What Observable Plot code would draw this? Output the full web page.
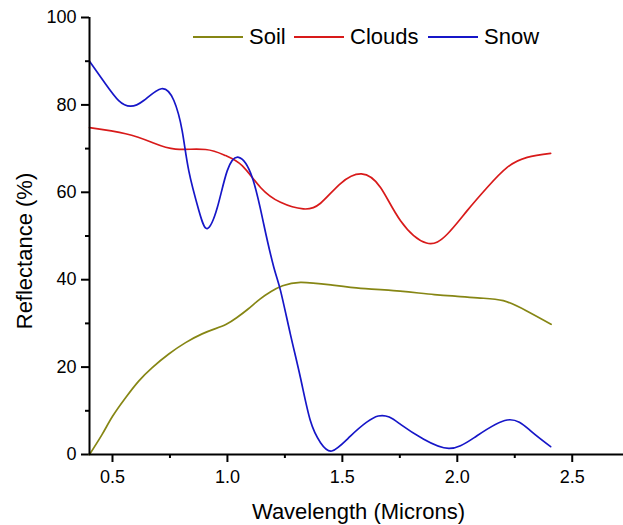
<!DOCTYPE html>
<html>
<head>
<meta charset="utf-8">
<script src="https://cdn.jsdelivr.net/npm/d3@7"></script>
<script src="https://cdn.jsdelivr.net/npm/@observablehq/plot@0.6"></script>
<style>
  html, body { margin: 0; padding: 0; background: #fff; }
  #wrap { position: relative; width: 623px; height: 525px; font-family: Arial, "Liberation Sans", sans-serif; }
  #legend { position: absolute; left: 0; top: 0; width: 623px; height: 60px; pointer-events: none; }
  .item { position: absolute; top: 23px; height: 28px; display: flex; align-items: center; font-size: 22px; color: #000; white-space: nowrap; }
  .sw { display: inline-block; width: 50px; height: 0; border-top: 2px solid; margin-right: 6px; }
</style>
</head>
<body>
<div id="wrap"></div>
<script>
// ---- data ----
const seriesNames = ["Soil", "Clouds", "Snow"];
const seriesColors = ["#868614", "#d81a1a", "#1616c8"];

const soilX = [0.40, 0.455, 0.501, 0.557, 0.614, 0.673, 0.745, 0.818, 0.890, 0.948, 0.995, 1.04, 1.09, 1.14, 1.19, 1.24, 1.318, 1.45, 1.58, 1.70, 1.90, 2.00, 2.10, 2.20, 2.30, 2.408];
const soilY = [0.0, 4.6, 8.8, 13.0, 16.8, 19.9, 23.0, 25.6, 27.6, 28.8, 29.8, 31.3, 33.3, 35.5, 37.3, 38.6, 39.4, 38.8, 38.0, 37.6, 36.6, 36.2, 35.8, 35.2, 32.9, 29.8];

const cloudsX = [0.40, 0.557, 0.673, 0.774, 0.905, 0.992, 1.064, 1.144, 1.231, 1.330, 1.405, 1.492, 1.583, 1.666, 1.753, 1.866, 1.956, 2.043, 2.130, 2.217, 2.304, 2.406];
const cloudsY = [74.8, 73.4, 71.4, 69.9, 69.8, 68.4, 66.1, 61.1, 57.7, 56.2, 57.5, 62.0, 64.2, 61.1, 53.5, 48.4, 50.4, 55.8, 61.1, 65.7, 68.0, 68.9];

const snowX = [0.40, 0.47, 0.527, 0.578, 0.636, 0.713, 0.767, 0.803, 0.832, 0.876, 0.912, 0.956, 0.999, 1.049, 1.108, 1.158, 1.202, 1.231, 1.274, 1.318, 1.361, 1.405, 1.454, 1.535, 1.656, 1.753, 1.854, 1.963, 2.072, 2.217, 2.319, 2.406];
const snowY = [90.0, 84.8, 81.0, 79.7, 81.0, 83.7, 81.0, 74.1, 64.9, 55.8, 51.7, 56.5, 64.9, 68.0, 63.4, 52.7, 42.8, 37.5, 27.5, 17.5, 7.7, 2.7, 0.8, 4.2, 8.8, 6.9, 3.5, 1.4, 3.8, 7.9, 5.4, 1.8];

const xMajorTicks = [0.5, 1.0, 1.5, 2.0, 2.5];
const xMinorTicks = [0.75, 1.25, 1.75, 2.25];
const yMajorTicks = [0, 20, 40, 60, 80, 100];
const yMinorTicks = [10, 30, 50, 70, 90];
const xDomain = [0.4, 2.723];
const yDomain = [0, 100];
const xLabel = "Wavelength (Microns)";
const yLabel = "Reflectance (%)";

// ---- build table ----
const rows = [];
[[soilX, soilY], [cloudsX, cloudsY], [snowX, snowY]].forEach(([xs, ys], i) => {
  xs.forEach((x, j) => rows.push({series: seriesNames[i], x, y: ys[j]}));
});

const font = 'Arial, "Liberation Sans", sans-serif';

const chart = Plot.plot({
  width: 623,
  height: 525,
  marginLeft: 89,
  marginRight: 0,
  marginTop: 17,
  marginBottom: 71,
  style: {fontFamily: font, fontSize: "18px", color: "#000", background: "#fff", overflow: "visible"},
  x: {domain: xDomain},
  y: {domain: yDomain},
  color: {domain: seriesNames, range: seriesColors},
  marks: [
    Plot.axisX(xMinorTicks, {tickSize: 4, strokeWidth: 2, text: null, label: null}),
    Plot.axisX(xMajorTicks, {tickSize: 8, strokeWidth: 2, tickPadding: 8, fontSize: 18, tickFormat: d => d.toFixed(1), label: null}),
    Plot.axisY(yMinorTicks, {tickSize: 4, strokeWidth: 2, text: null, label: null}),
    Plot.axisY(yMajorTicks, {tickSize: 8, strokeWidth: 2, tickPadding: 5, fontSize: 18, label: null}),
    Plot.lineY(rows, {x: "x", y: "y", z: "series", stroke: "series", strokeWidth: 1.7, curve: "natural"}),
    Plot.ruleY([0], {strokeWidth: 2}),
    Plot.ruleX([xDomain[0]], {strokeWidth: 2}),
    Plot.text([xLabel], {frameAnchor: "bottom", dx: 2, dy: 64, lineAnchor: "bottom", fontSize: 22}),
    Plot.text([yLabel], {frameAnchor: "middle", rotate: -90, dx: -325, dy: 15, lineAnchor: "bottom", fontSize: 22})
  ]
});

const wrap = document.getElementById("wrap");
wrap.appendChild(chart);

// ---- legend overlay ----
const legend = document.createElement("div");
legend.id = "legend";
const legendLefts = [193, 294, 428];
seriesNames.forEach((name, i) => {
  const item = document.createElement("div");
  item.className = "item";
  item.style.left = legendLefts[i] + "px";
  const sw = document.createElement("span");
  sw.className = "sw";
  sw.style.borderTopColor = seriesColors[i];
  item.appendChild(sw);
  item.appendChild(document.createTextNode(name));
  legend.appendChild(item);
});
wrap.appendChild(legend);
</script>
</body>
</html>
